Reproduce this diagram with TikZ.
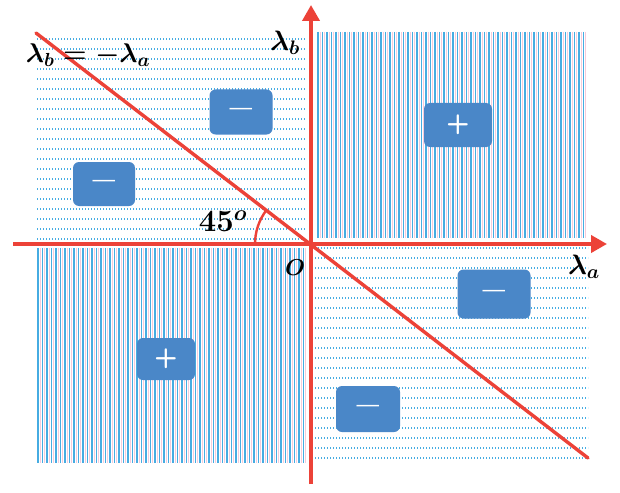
\RequirePackage{fix-cm}
\documentclass[tikz,border=0pt]{standalone}
\usepackage{bm}
\usetikzlibrary{arrows.meta,angles}
\definecolor{axred}{RGB}{236,66,56}
\definecolor{hblue}{RGB}{70,172,226}
\definecolor{hpink}{RGB}{246,202,218}
\definecolor{boxblue}{RGB}{74,135,200}
\begin{document}
\begin{tikzpicture}[x=1pt,y=-1pt,
  axis/.style={draw=axred,line width=3.8pt,-{Triangle[length=16pt,width=17pt]}},
  diag/.style={draw=axred,line width=3.4pt,line cap=round},
  vline/.style={hblue,line width=1.3pt},
  pline/.style={hpink,line width=1.1pt},
  hrow/.style={hblue,line width=1.1pt,dash pattern=on 1.2pt off 1.8pt},
  sbox/.style={fill=boxblue,rounded corners=6pt,text=white,inner sep=0pt,
    font=\fontsize{24}{28}\selectfont\sffamily},
  pbox/.style={sbox,font=\fontsize{27}{30}\selectfont\sffamily\bfseries},
  lbl/.style={inner sep=0pt,font=\fontsize{28}{32}\selectfont\boldmath}]
\useasboundingbox (0,0) rectangle (620,492);
\fill[white] (0,0) rectangle (620,492);
% vertical hatch: bottom-left and top-right
\foreach \x in {38,42.5,...,304} {
  \draw[vline] (\x,248) -- (\x,463);
  \draw[pline] (\x+2.25,248) -- (\x+2.25,463);
}
\foreach \x in {318,322.5,...,587} {
  \draw[vline] (\x,32) -- (\x,238);
  \draw[pline] (\x+2.25,32) -- (\x+2.25,238);
}
% horizontal dotted rows: top-left and bottom-right
\foreach \y in {39,49,...,239} {
  \draw[hrow] (37,\y) -- (306,\y);
}
\foreach \y in {248,258,...,458} {
  \draw[hrow] (315,\y) -- (588,\y);
}
% coordinates
\coordinate (O) at (311,244);
\coordinate (xl) at (13,244);
\coordinate (xr) at (607,244);
\coordinate (yb) at (311,484);
\coordinate (yt) at (311,5);
\coordinate (dl) at (36,33);
\coordinate (dr) at (588,458);
% lines
\draw[diag] (dl) -- (dr);
\draw[axis] (xl) -- (xr);
\draw[axis] (yb) -- (yt);
\pic[draw=axred,line width=2.4pt,angle radius=56pt] {angle = dl--O--xl};
% boxes
\node[sbox,minimum width=63,minimum height=45] (m1) at (241,112) {—};
\node[sbox,minimum width=62,minimum height=44] (m2) at (104,184) {—};
\node[pbox,minimum width=68,minimum height=44] (p1) at (458,125) {+};
\node[pbox,minimum width=58,minimum height=42] (p2) at (166,359) {+};
\node[sbox,minimum width=73,minimum height=49] (m3) at (494,294) {—};
\node[sbox,minimum width=64,minimum height=46] (m4) at (368,409) {—};
% labels
\node[lbl,font=\fontsize{27}{31}\selectfont\boldmath] (eq) at (88,55) {$\lambda_b=-\lambda_a$};
\node[lbl] (lb) at (285,43) {$\lambda_b$};
\node[lbl] (la) at (584,267) {$\lambda_a$};
\node[lbl,font=\fontsize{31}{35}\selectfont\boldmath] (ang) at (223,221) {$45^o$};
\node[lbl,font=\fontsize{23}{27}\selectfont\boldmath] (o) at (295,268) {$O$};
\end{tikzpicture}
\end{document}
